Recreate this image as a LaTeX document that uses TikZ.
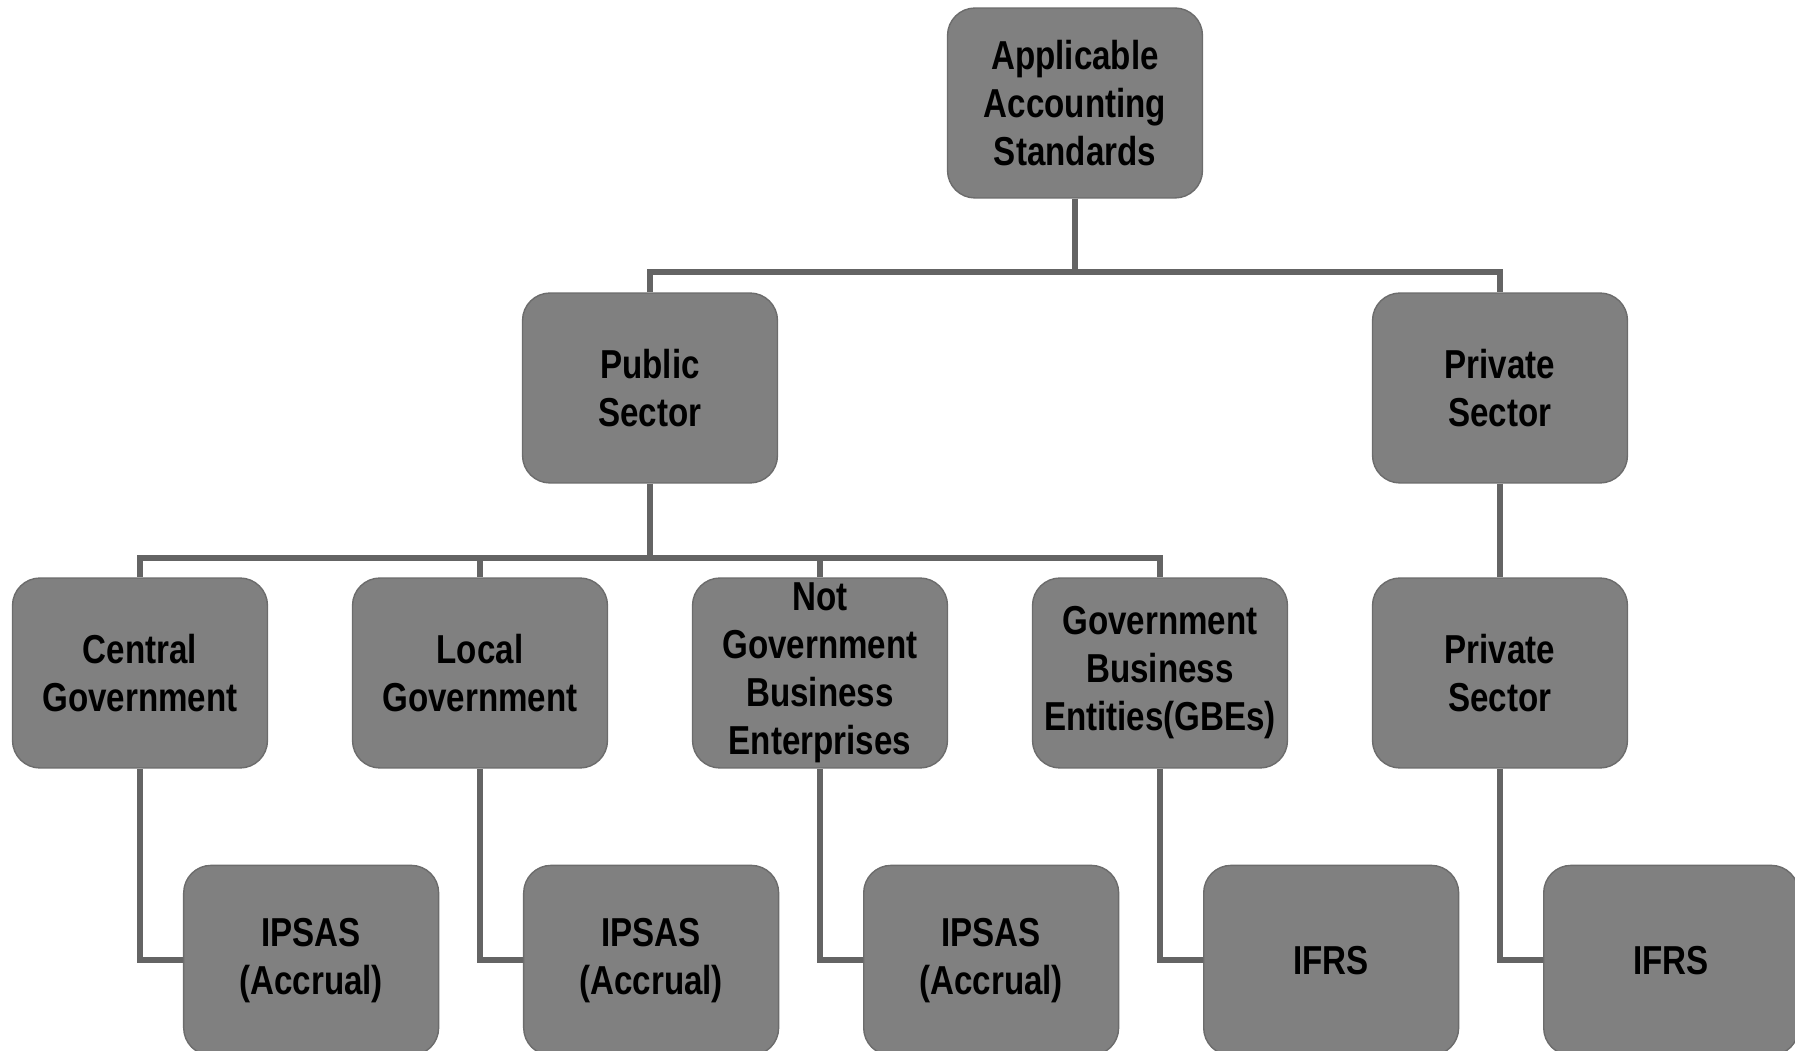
\documentclass[tikz,border=0pt]{standalone}
\usepackage{fontspec}
\setmainfont{Liberation Sans}[FakeStretch=0.82]
\usetikzlibrary{positioning,calc}

\definecolor{boxfill}{RGB}{128,128,128}
\definecolor{boxline}{RGB}{108,108,108}
\definecolor{linkgrey}{RGB}{100,100,100}

\pgfdeclarelayer{background}
\pgfsetlayers{background,main}

\begin{document}
\begin{tikzpicture}[x=0.02cm,y=0.02cm,
    box node/.style={rectangle,rounded corners=0.55cm,draw=boxline,line width=0.8pt,fill=boxfill,minimum width=5.1cm,minimum height=3.8cm,inner sep=0pt,align=center,font=\fontsize{23}{27.3}\selectfont\bfseries},
    link/.style={draw=linkgrey,line width=3.4pt}]

                \useasboundingbox (0,0) rectangle (1795,1051);

                % top and the two sectors
                \node[box node] (std) at (1075,948) {Applicable\\Accounting\\Standards};
                \node[box node] (pub) at (650,663) {Public\\Sector};
                \node[box node] (priv) at (1500,663) {Private\\Sector};

                % entities
                \node[box node] (g1) at (140,378) {Central\\Government};
                \node[box node] (g2) at (480,378) {Local\\Government};
                \node[box node] (g3) at (820,378) {Not\\Government\\Business\\Enterprises};
                \node[box node] (g4) at (1160,378) {Government\\Business\\Entities(GBEs)};
                \node[box node] (g5) at (1500,378) {Private\\Sector};

                % standards
                \foreach \i/\txt in {1/{IPSAS\\(Accrual)},2/{IPSAS\\(Accrual)},3/{IPSAS\\(Accrual)},4/IFRS,5/IFRS}{
                    \node[box node,below right=1.92cm and 0.86cm of g\i.south] (s\i) {\txt};
                }

                \coordinate (topbus) at (1075,779);
                \coordinate (pubbus) at (650,493);

                \begin{pgfonlayer}{background}
                    \draw[link] (std.south) -- (topbus);
                    \draw[link] (pub.north) |- (topbus) -| (priv.north);
                    \draw[link] (pub.south) -- (pubbus);
                    \foreach \i in {1,...,4}{
                        \draw[link] (pubbus) -| (g\i.north);
                    }
                    \draw[link] (priv.south) -- (g5.north);
                    \foreach \i in {1,...,5}{
                        \draw[link] (g\i.south) |- (s\i.west);
                    }
                \end{pgfonlayer}

            \end{tikzpicture}
\end{document}
